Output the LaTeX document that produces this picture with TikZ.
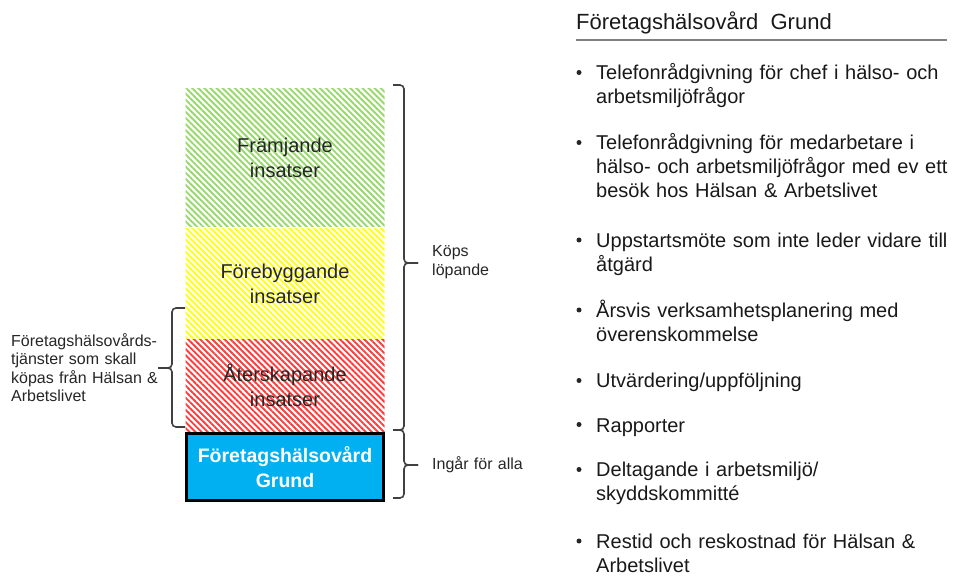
\documentclass[tikz,border=0pt]{standalone}
\usepackage{fontspec}
\setmainfont{Liberation Sans}
\usetikzlibrary{positioning, patterns.meta}

\definecolor{hgreen}{HTML}{96D86A}
\definecolor{hyellow}{HTML}{FFFF10}
\definecolor{hred}{HTML}{FF3C3C}
\definecolor{hblue}{HTML}{00B0F0}

\begin{document}
\begin{tikzpicture}[
            x = 1pt, y = -1pt, % pixel grid, y runs downwards
            box/.style = {
                minimum width = 199pt,
                inner sep = 0pt,
                align = center,
                font = \fontsize{20}{25}\selectfont,
                text = black!85
            },
            hatch/.style = {
                box,
                pattern = {Lines[angle=-45, distance=4.3pt, line width=1.9pt]},
                pattern color = #1
            },
            basebox/.style = {
                box,
                fill = hblue,
                draw = black,
                line width = 3pt,
                text = white,
                font = \bfseries\fontsize{19.5}{25}\selectfont
            },
            side/.style = {
                anchor = base west,
                text width = 170pt,
                align = left,
                inner sep = 0pt,
                font = \fontsize{16}{18.5}\selectfont,
                text = black!85
            },
            item/.style = {
                anchor = base west,
                text width = 360pt,
                align = left,
                inner sep = 0pt,
                font = \fontsize{20}{24}\selectfont,
                text = black!90
            },
            dot/.style = {circle, fill = black!85, inner sep = 0pt, minimum size = 5pt},
            brace/.style = {draw = black!75, line width = 1.6pt, rounded corners = 4pt}
        ]

        \useasboundingbox (0,0) rectangle (954,577);

        % stacked boxes
        \node[hatch=hgreen, minimum height=138.5pt] (framjande) at (285,157.75) {Främjande\\insatser};
        \node[hatch=hyellow, minimum height=110.5pt, below=0pt of framjande] (forebyggande) {Förebyggande\\insatser};
        \node[hatch=hred, minimum height=92.5pt, below=0pt of forebyggande] (aterskapande) {Återskapande\\insatser};
        \node[basebox, minimum width=197pt, minimum height=67pt, below=0pt of aterskapande] (grund) {Företagshälsovård\\Grund};

        % braces
        \draw[brace] (393,85) -- (404,85) -- (404,263) -- (418,263);
        \draw[brace] (418,263) -- (404,263) -- (404,430) -- (393,430);
        \draw[brace] (393,430) -- (404,430) -- (404,465) -- (418,465);
        \draw[brace] (418,465) -- (404,465) -- (404,498) -- (393,498);
        \draw[brace] (185,308) -- (172,308) -- (172,368) -- (158,368);
        \draw[brace] (158,368) -- (172,368) -- (172,427) -- (185,427);

        % side labels
        \node[side] (kops) at (432,257) {Köps\\löpande};
        \node[side] (ingar) at (432,470) {Ingår för alla};
        \node[side] (tjanster) at (11,346.5) {Företagshälsovårds-\\tjänster som skall\\köpas från Hälsan \&\\Arbetslivet};

        % list on the right
        \node[anchor=base west, inner sep=0pt, font=\fontsize{22}{26}\selectfont, text=black!90] (titel) at (576,30) {Företagshälsovård\ \ Grund};
        \draw[gray, line width=1.2pt] ([yshift=-10pt]titel.base west) -- ++(371,0);

        \node[item] (i1) at (596,80) {Telefonrådgivning för chef i hälso- och\\arbetsmiljöfrågor};
        \node[item] (i2) at (596,150) {Telefonrådgivning för medarbetare i\\hälso- och arbetsmiljöfrågor med ev ett\\besök hos Hälsan \& Arbetslivet};
        \node[item] (i3) at (596,247.5) {Uppstartsmöte som inte leder vidare till\\åtgärd};
        \node[item] (i4) at (596,317.5) {Årsvis verksamhetsplanering med\\överenskommelse};
        \node[item] (i5) at (596,388) {Utvärdering/uppföljning};
        \node[item] (i6) at (596,432) {Rapporter};
        \node[item] (i7) at (596,477) {Deltagande i arbetsmiljö/\\skyddskommitté};
        \node[item] (i8) at (596,548.5) {Restid och reskostnad för Hälsan \&\\Arbetslivet};

        \foreach \i in {1,...,8}
            \node[dot] (b\i) at ([xshift=-17pt, yshift=7.5pt]i\i.base west) {};

    \end{tikzpicture}
\end{document}
